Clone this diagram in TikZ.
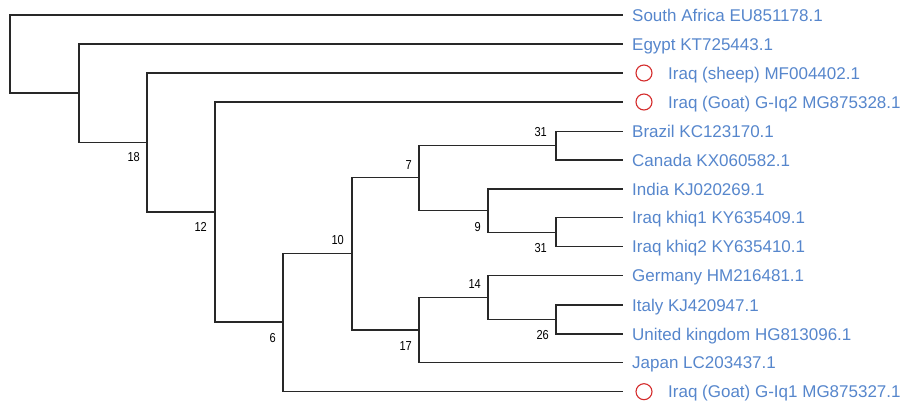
\documentclass[tikz,border=0pt]{standalone}
\usepackage{fontspec}
\setmainfont{Liberation Sans}
\newfontfamily\numfont[FakeStretch=0.85]{Liberation Sans}
\definecolor{leafblue}{RGB}{86,134,204}
\definecolor{markred}{RGB}{212,44,44}
\definecolor{branch}{RGB}{40,40,40}
\begin{document}
\begin{tikzpicture}[x=1pt,y=-1pt,
  edge/.style={draw=branch,line width=1.1pt},
  leaf/.style={anchor=west,inner sep=0pt,text=leafblue,font=\fontsize{17}{20}\selectfont,text height=12.2pt,text depth=0pt},
  boot/.style={anchor=east,inner sep=0pt,font=\numfont\fontsize{13}{15}\selectfont,text height=9.4pt,text depth=0pt},
  redring/.style={circle,draw=markred,line width=1.1pt,minimum size=16pt,inner sep=0pt}]
\useasboundingbox (0,0) rectangle (906,403);
% leaf tips
\foreach \i/\y in {1/15,2/44,3/73,4/102,5/131.7,6/160,7/189,8/217.7,9/246.7,10/275.7,11/305,12/334,13/362.7,14/391.7}
  \coordinate (t\i) at (623,\y);
% internal nodes
\coordinate (root) at (10,54);
\coordinate (A) at (79,93);
\coordinate (B) at (147,142.3);
\coordinate (C) at (215,212);
\coordinate (D) at (283,322);
\coordinate (E) at (352,253.5);
\coordinate (F) at (419,177.5);
\coordinate (G) at (556,145.8);
\coordinate (H) at (488,210.3);
\coordinate (I) at (556,232.2);
\coordinate (J) at (419,330);
\coordinate (K) at (488,297.3);
\coordinate (L) at (556,319.5);
% edges
\draw[edge] (root) |- (t1);
\draw[edge] (root) |- (A);
\draw[edge] (A) |- (t2);
\draw[edge] (A) |- (B);
\draw[edge] (B) |- (t3);
\draw[edge] (B) |- (C);
\draw[edge] (C) |- (t4);
\draw[edge] (C) |- (D);
\draw[edge] (D) |- (E);
\draw[edge] (D) |- (t14);
\draw[edge] (E) |- (F);
\draw[edge] (E) |- (J);
\draw[edge] (F) |- (G);
\draw[edge] (F) |- (H);
\draw[edge] (G) |- (t5);
\draw[edge] (G) |- (t6);
\draw[edge] (H) |- (t7);
\draw[edge] (H) |- (I);
\draw[edge] (I) |- (t8);
\draw[edge] (I) |- (t9);
\draw[edge] (J) |- (K);
\draw[edge] (J) |- (t13);
\draw[edge] (K) |- (t10);
\draw[edge] (K) |- (L);
\draw[edge] (L) |- (t11);
\draw[edge] (L) |- (t12);
% leaf labels
\node[leaf] (n1) at (632,15) {South Africa EU851178.1};
\node[leaf] (n2) at (632,44) {Egypt KT725443.1};
\node[redring] (m3) at (644,73) {};
\node[leaf] (n3) at (668,73) {Iraq (sheep) MF004402.1};
\node[redring] (m4) at (644,102) {};
\node[leaf] (n4) at (668,102) {Iraq (Goat) G-Iq2 MG875328.1};
\node[leaf] (n5) at (632,131.7) {Brazil KC123170.1};
\node[leaf] (n6) at (632,160) {Canada KX060582.1};
\node[leaf] (n7) at (632,189) {India KJ020269.1};
\node[leaf] (n8) at (632,217.7) {Iraq khiq1 KY635409.1};
\node[leaf] (n9) at (632,246.7) {Iraq khiq2 KY635410.1};
\node[leaf] (n10) at (632,275.7) {Germany HM216481.1};
\node[leaf] (n11) at (632,305) {Italy KJ420947.1};
\node[leaf] (n12) at (632,334) {United kingdom HG813096.1};
\node[leaf] (n13) at (632,362.7) {Japan LC203437.1};
\node[redring] (m14) at (644,391.7) {};
\node[leaf] (n14) at (668,391.7) {Iraq (Goat) G-Iq1 MG875327.1};
% bootstrap values
\node[boot] (b18) at (140,157.3) {18};
\node[boot] (b12) at (207,227) {12};
\node[boot] (b6) at (276,338) {6};
\node[boot] (b10) at (344,240) {10};
\node[boot] (b7) at (412,165) {7};
\node[boot] (b31a) at (547,131.7) {31};
\node[boot] (b9) at (481,226.7) {9};
\node[boot] (b31b) at (547,247.7) {31};
\node[boot] (b14) at (481,284) {14};
\node[boot] (b26) at (549,335) {26};
\node[boot] (b17) at (412,346) {17};
\end{tikzpicture}
\end{document}
